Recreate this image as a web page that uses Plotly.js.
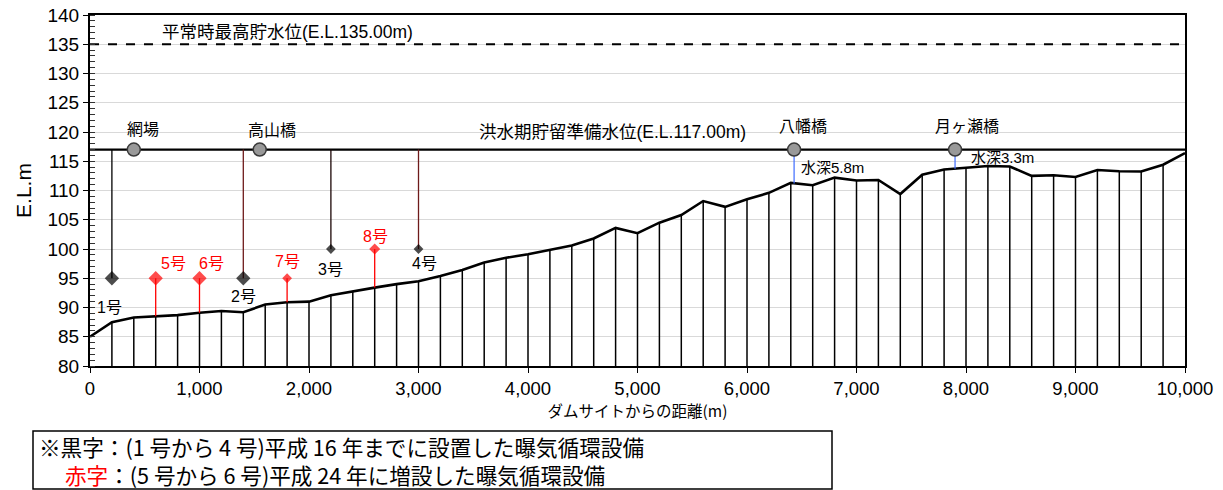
<!DOCTYPE html>
<html>
<head>
<meta charset="utf-8">
<script src="https://cdn.plot.ly/plotly-3.0.1.min.js"></script>
<style>
html,body{margin:0;padding:0;background:#fff;}
#chart{width:1223px;height:490px;}
</style>
</head>
<body>
<div id="chart"></div>
<script>
// ---------- data ----------
const distances = [0,200,400,600,800,1000,1200,1400,1600,1800,2000,2200,2400,2600,2800,3000,3200,3400,3600,3800,4000,4200,4400,4600,4800,5000,5200,5400,5600,5800,6000,6200,6400,6600,6800,7000,7200,7400,7600,7800,8000,8200,8400,8600,8800,9000,9200,9400,9600,9800,10000];
const groundElevation = [85.0,87.5,88.3,88.5,88.7,89.1,89.4,89.2,90.5,90.9,91.0,92.1,92.8,93.4,94.0,94.5,95.4,96.4,97.7,98.5,99.1,99.8,100.6,101.8,103.6,102.7,104.5,105.8,108.2,107.2,108.5,109.6,111.3,110.9,112.2,111.7,111.8,109.4,112.7,113.6,113.85,114.2,114.1,112.5,112.6,112.3,113.5,113.3,113.25,114.4,116.4];

const normalHighWaterLevel = 135.0;
const floodSeasonWaterLevel = 117.0;
const normalLevelLabel = "平常時最高貯水位(E.L.135.00m)";
const floodLevelLabel = "洪水期貯留準備水位(E.L.117.00m)";

const aeratorNames = ["1号","5号","6号","2号","7号","3号","8号","4号"];
const aeratorDistance = [200,600,1000,1400,1800,2200,2600,3000];
const aeratorElevation = [95,95,95,95,95,100,100,100];
const aeratorGroup = ["black","red","red","black","red","black","red","black"];

const bridgeNames = ["網場","高山橋","八幡橋","月ヶ瀬橋"];
const bridgeDistance = [400,1550,6430,7900];
const depthBridge = ["八幡橋","月ヶ瀬橋"];
const depthValues = [5.8,3.3];
const depthLabels = ["水深5.8m","水深3.3m"];

const yTitle = "E.L.m";
const xTitle = "ダムサイトからの距離(m)";
const noteLine1 = "※黒字：(1 号から 4 号)平成 16 年までに設置した曝気循環設備";
const noteLine2Red = "赤字";
const noteLine2 = "：(5 号から 6 号)平成 24 年に増設した曝気循環設備";

// ---------- styles ----------
const FONT = "Liberation Sans, Arial, Noto Sans CJK JP, sans-serif";
const aeratorStyle = {
  "1号":{size:11, line:"#000000", lx:-2, ly:29},
  "2号":{size:11, line:"#6e1a1a", lx:0, ly:18},
  "3号":{size:7.5, line:"#1a0505", lx:0, ly:20},
  "4号":{size:7.5, line:"#6e1a1a", lx:6, ly:14},
  "5号":{size:11, line:"#ff0000", lx:18, ly:-15},
  "6号":{size:11, line:"#ff0000", lx:12, ly:-15},
  "7号":{size:7.5, line:"#ff0000", lx:0, ly:-17},
  "8号":{size:8.5, line:"#ff0000", lx:1, ly:-13}
};
const bridgeLabelShift = {"網場":[9,20],"高山橋":[12,19],"八幡橋":[9,23],"月ヶ瀬橋":[12,23]};

function groundAt(x){
  const i = distances.indexOf(x);
  if (i >= 0) return groundElevation[i];
  for (let k=0;k<distances.length-1;k++){
    if (x>=distances[k] && x<=distances[k+1]){
      const t=(x-distances[k])/(distances[k+1]-distances[k]);
      return groundElevation[k]+t*(groundElevation[k+1]-groundElevation[k]);
    }
  }
  return null;
}

const traces = [];

// vertical hatch lines under the profile
const vx=[], vy=[];
distances.forEach((d,i)=>{ if(d>0 && d<10000){ vx.push(d,d,null); vy.push(80,groundElevation[i],null);} });
traces.push({x:vx,y:vy,mode:"lines",line:{color:"#000",width:1.5},hoverinfo:"skip",showlegend:false});

// ground profile
traces.push({x:distances,y:groundElevation,mode:"lines",line:{color:"#000",width:2.6},showlegend:false});

// water levels
traces.push({x:[0,10000],y:[normalHighWaterLevel,normalHighWaterLevel],mode:"lines",line:{color:"#000",width:2,dash:"dash"},showlegend:false});
traces.push({x:[0,10000],y:[floodSeasonWaterLevel,floodSeasonWaterLevel],mode:"lines",line:{color:"#000",width:2.2},showlegend:false});

// aerator stems
aeratorNames.forEach((n,i)=>{
  const x=aeratorDistance[i], y=aeratorElevation[i];
  const y2 = aeratorGroup[i]==="black" ? floodSeasonWaterLevel : groundAt(x);
  traces.push({x:[x,x],y:[y,y2],mode:"lines",line:{color:aeratorStyle[n].line,width:1.3},showlegend:false,hoverinfo:"skip"});
});

// depth lines at bridges
depthBridge.forEach((b,i)=>{
  const x = bridgeDistance[bridgeNames.indexOf(b)];
  traces.push({x:[x,x],y:[floodSeasonWaterLevel,floodSeasonWaterLevel-depthValues[i]],mode:"lines",line:{color:"#3d6bff",width:1.2},showlegend:false});
});

// aerator markers
traces.push({
  x:aeratorDistance, y:aeratorElevation, mode:"markers", showlegend:false,
  marker:{symbol:"diamond", size:aeratorNames.map(n=>aeratorStyle[n].size),
    color:aeratorGroup.map(g=>g==="red"?"#ff0000":"#000000"), line:{width:0}}
});

// bridge markers
traces.push({
  x:bridgeDistance, y:bridgeDistance.map(()=>floodSeasonWaterLevel), mode:"markers", showlegend:false,
  marker:{symbol:"circle", size:13, color:"#999999", line:{color:"#3a3a3a",width:1.5}}
});

const annotations = [];
annotations.push({x:0.18, xref:"paper", y:normalHighWaterLevel, yref:"y", text:normalLevelLabel, showarrow:false, yshift:12, xanchor:"center", font:{family:FONT,size:17.5,color:"#000"}});
annotations.push({x:0.477, xref:"paper", y:floodSeasonWaterLevel, yref:"y", text:floodLevelLabel, showarrow:false, yshift:18, xanchor:"center", font:{family:FONT,size:17.5,color:"#000"}});

aeratorNames.forEach((n,i)=>{
  annotations.push({x:aeratorDistance[i], y:aeratorElevation[i], text:n, showarrow:false,
    xshift:aeratorStyle[n].lx, yshift:-aeratorStyle[n].ly,
    font:{family:FONT,size:16,color:aeratorGroup[i]==="red"?"#ff0000":"#000"}});
});
bridgeNames.forEach((n,i)=>{
  annotations.push({x:bridgeDistance[i], y:floodSeasonWaterLevel, text:n, showarrow:false,
    xshift:bridgeLabelShift[n][0], yshift:bridgeLabelShift[n][1],
    font:{family:FONT,size:16,color:"#000"}});
});
depthBridge.forEach((b,i)=>{
  const x = bridgeDistance[bridgeNames.indexOf(b)];
  annotations.push({x:x, y:floodSeasonWaterLevel, text:depthLabels[i], showarrow:false,
    xanchor:"left", xshift: i===0?5:14, yshift: i===0?-18:-8,
    font:{family:FONT,size:15,color:"#000"}});
});
// note box text
annotations.push({x:-0.048, xref:"paper", y:-0.228, yref:"paper", xanchor:"left", yanchor:"middle", showarrow:false,
  text:noteLine1, font:{family:"Noto Sans CJK JP, sans-serif",size:21.6,color:"#000"}});
annotations.push({x:-0.025, xref:"paper", y:-0.308, yref:"paper", xanchor:"left", yanchor:"middle", showarrow:false,
  text:'<span style="color:#ff0000">'+noteLine2Red+'</span>'+noteLine2, font:{family:"Noto Sans CJK JP, sans-serif",size:21.6,color:"#000"}});

const layout = {
  width:1223, height:490,
  margin:{l:90,r:38,t:15,b:124},
  paper_bgcolor:"#fff", plot_bgcolor:"#fff",
  showlegend:false,
  font:{family:FONT,color:"#000"},
  xaxis:{range:[0,10000], dtick:1000, tick0:0, tickformat:",d", ticks:"outside", ticklen:5, tickcolor:"#000",
    showline:true, linecolor:"#000", linewidth:2, mirror:true, showgrid:false, zeroline:false,
    tickfont:{family:FONT,size:18.5,color:"#000"},
    title:{text:xTitle, font:{family:"Noto Sans CJK JP, sans-serif",size:15.5,color:"#000"}, standoff:3}},
  yaxis:{range:[80,140], dtick:5, tick0:80, ticks:"outside", ticklen:5, tickcolor:"#000",
    showline:true, linecolor:"#000", linewidth:2, mirror:true, showgrid:true, gridcolor:"#d9d9d9", gridwidth:1, zeroline:false,
    minor:{dtick:1, ticks:"inside", ticklen:5, tickcolor:"#333", showgrid:false},
    tickfont:{family:FONT,size:19,color:"#000"},
    title:{text:yTitle, font:{family:FONT,size:21,color:"#000"}, standoff:10}},
  shapes:[
    {type:"rect", xref:"paper", yref:"paper", x0:(33-90)/1095, x1:(832-90)/1095, y0:(366-489)/351, y1:(366-431)/351,
     line:{color:"#000",width:1.5}, fillcolor:"rgba(0,0,0,0)"}
  ],
  annotations:annotations
};

Plotly.newPlot("chart", traces, layout, {displayModeBar:false, staticPlot:true});
</script>
</body>
</html>
